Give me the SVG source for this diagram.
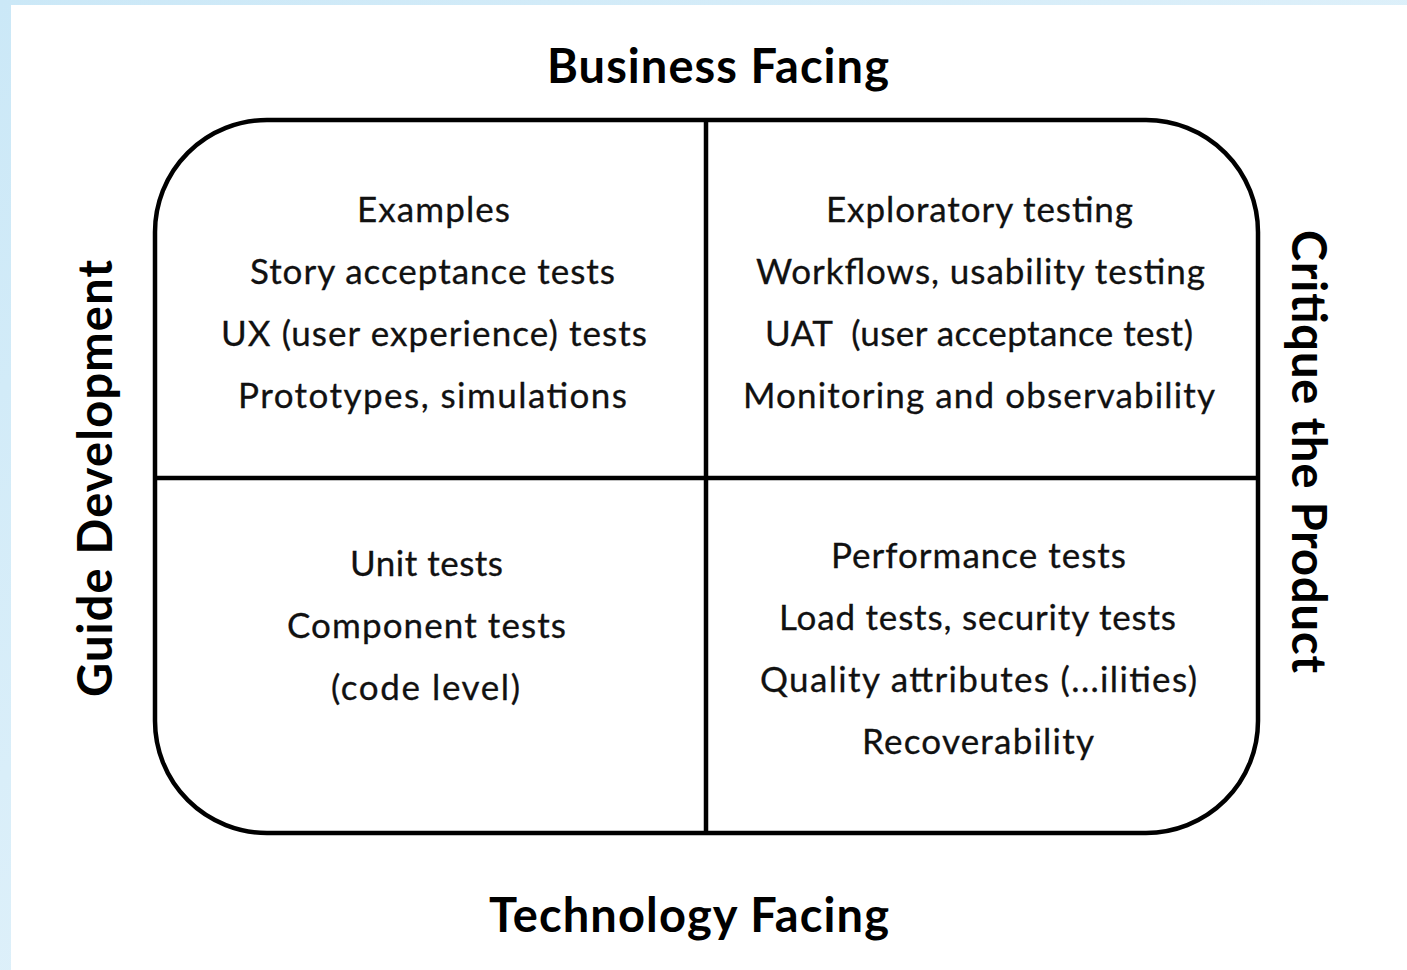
<svg xmlns="http://www.w3.org/2000/svg" width="1407" height="970" viewBox="0 0 1407 970">
  <defs>
    <linearGradient id="bg" x1="0" y1="0" x2="1" y2="1">
      <stop offset="0" stop-color="#cbe8f7"/>
      <stop offset="1" stop-color="#eef7fc"/>
    </linearGradient>
    <style>
      .title { font-family: Lato, "Liberation Sans", sans-serif; font-weight: bold; font-size: 47px; fill: #000; text-anchor: middle; }
      .body { font-family: Lato, "Liberation Sans", sans-serif; font-size: 35px; fill: #111; text-anchor: middle; stroke: #111; stroke-width: 0.3; }
      .frame { fill: none; stroke: #000; stroke-width: 4.5; }
    </style>
  </defs>

  <rect x="0" y="0" width="1407" height="970" fill="url(#bg)"/>
  <rect x="11" y="5" width="1396" height="965" fill="#ffffff"/>

  <g id="frame">
    <rect class="frame" x="155" y="120" width="1103" height="713" rx="112" ry="112"/>
  </g>

  <g id="connectors">
    <line class="frame" x1="706" y1="120" x2="706" y2="833"/>
    <line class="frame" x1="155" y1="478" x2="1258" y2="478"/>
  </g>

  <g id="axis-top">
    <text class="title" x="718" y="83" textLength="342">Business Facing</text>
  </g>
  <g id="axis-bottom">
    <text class="title" x="689" y="932" textLength="400">Technology Facing</text>
  </g>
  <g id="axis-left">
    <text class="title" transform="translate(112,478.5) rotate(-90)" x="0" y="0" textLength="437">Guide Development</text>
  </g>
  <g id="axis-right">
    <text class="title" transform="translate(1292,451.5) rotate(90)" x="0" y="0" textLength="443">Critique the Product</text>
  </g>

  <g id="q1">
    <text class="body" x="433.5" y="222" textLength="153">Examples</text>
    <text class="body" x="432.5" y="284" textLength="365">Story acceptance tests</text>
    <text class="body" x="434" y="346" textLength="426">UX (user experience) tests</text>
    <text class="body" x="432.5" y="408" textLength="389">Prototypes, simulations</text>
  </g>

  <g id="q2">
    <text class="body" x="979.5" y="222" textLength="307">Exploratory testing</text>
    <text class="body" x="980.5" y="284" textLength="449">Workflows, usability testing</text>
    <text class="body" x="979" y="346" textLength="428">UAT&#160; (user acceptance test)</text>
    <text class="body" x="979" y="408" textLength="472">Monitoring and observability</text>
  </g>

  <g id="q3">
    <text class="body" x="426.5" y="576" textLength="153">Unit tests</text>
    <text class="body" x="426.5" y="638" textLength="279">Component tests</text>
    <text class="body" x="425.5" y="700" textLength="189">(code level)</text>
  </g>

  <g id="q4">
    <text class="body" x="978.5" y="568" textLength="295">Performance tests</text>
    <text class="body" x="977.5" y="630" textLength="397">Load tests, security tests</text>
    <text class="body" x="978.5" y="692" textLength="437">Quality attributes (...ilities)</text>
    <text class="body" x="978" y="754" textLength="232">Recoverability</text>
  </g>
</svg>
